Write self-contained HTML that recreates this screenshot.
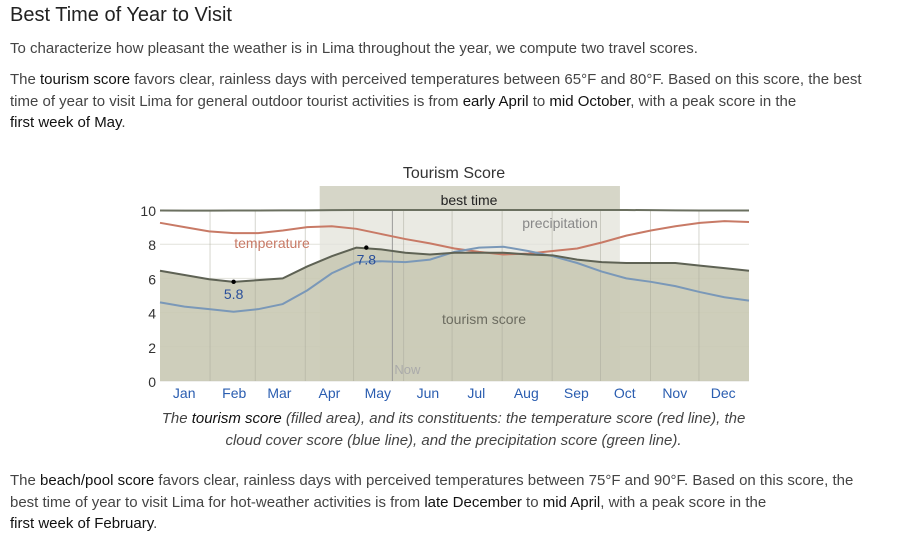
<!DOCTYPE html>
<html><head><meta charset="utf-8"><style>
body{margin:0;width:907px;height:552px;background:#fff;font-family:"Liberation Sans",sans-serif;color:#444;position:relative;overflow:hidden}
.t{position:absolute;left:10px;font-size:15px;line-height:21.5px;margin:0;white-space:nowrap}
b{font-weight:normal;color:#111}
</style></head><body>
<div class="t" style="top:5px;font-size:20px;color:#222">Best Time of Year to Visit</div>
<p class="t" style="top:38px">To characterize how pleasant the weather is in Lima throughout the year, we compute two travel scores.</p>
<p class="t" style="top:69px">The <b>tourism score</b> favors clear, rainless days with perceived temperatures between 65°F and 80°F. Based on this score, the best<br>time of year to visit Lima for general outdoor tourist activities is from <b>early April</b> to <b>mid October</b>, with a peak score in the<br><b>first week of May</b>.</p>
<svg id="c" width="907" height="552" style="position:absolute;left:0;top:0" font-family="Liberation Sans, sans-serif"></svg>
<p class="t" style="top:408px;left:0;width:907px;text-align:center;font-style:italic">The <b>tourism score</b> (filled area), and its constituents: the temperature score (red line), the<br>cloud cover score (blue line), and the precipitation score (green line).</p>
<p class="t" style="top:470px">The <b>beach/pool score</b> favors clear, rainless days with perceived temperatures between 75°F and 90°F. Based on this score, the<br>best time of year to visit Lima for hot-weather activities is from <b>late December</b> to <b>mid April</b>, with a peak score in the<br><b>first week of February</b>.</p>
<script>
const months=["Jan","Feb","Mar","Apr","May","Jun","Jul","Aug","Sep","Oct","Nov","Dec"];
const yTicks=[0,2,4,6,8,10];
const tourism=[6.45,6.2,5.95,5.8,5.9,6.0,6.7,7.3,7.8,7.7,7.5,7.4,7.5,7.5,7.5,7.4,7.35,7.1,6.95,6.9,6.9,6.9,6.75,6.6,6.45];
const temperature=[9.25,9.0,8.75,8.65,8.65,8.8,9.0,9.05,8.9,8.6,8.3,8.05,7.75,7.55,7.4,7.45,7.6,7.75,8.1,8.5,8.8,9.05,9.25,9.35,9.3];
const cloud=[4.6,4.35,4.2,4.05,4.2,4.5,5.3,6.3,6.95,7.0,6.95,7.1,7.55,7.8,7.85,7.6,7.3,6.9,6.4,6.0,5.8,5.55,5.2,4.9,4.7];
const precip=[9.97,9.96,9.96,9.97,9.97,9.98,9.98,9.99,10,10,10,10,10,10,10,10,10,10,10,10,9.99,9.98,9.97,9.97,9.97];
const bestStart=99, bestEnd=285, nowDay=144;
const lowIdx=3, peakIdx=8;
const X0=160,X1=749,Y0=381,Y1=210;
const ns="http://www.w3.org/2000/svg",svg=document.getElementById('c');
const x=d=>X0+(X1-X0)*d/365, y=v=>Y0-(Y0-Y1)*v/10;
const day=i=>i*365/(tourism.length-1);
function mk(t,a,txt){const e=document.createElementNS(ns,t);for(const k in a)e.setAttribute(k,a[k]);if(txt!=null)e.textContent=txt;svg.appendChild(e);return e;}
let e;
e=mk('rect',{x:X0,y:Y1,width:X1-X0,height:Y0-Y1,fill:'#fff'});

e=mk('rect',{x:x(bestStart),y:186,width:x(bestEnd)-x(bestStart),height:Y0-186,fill:'#eaeae3'});

e=mk('rect',{x:x(bestStart),y:186,width:x(bestEnd)-x(bestStart),height:Y1-186,fill:'#d6d6c8'});

yTicks.forEach(v=>{e=mk('line',{x1:X0,x2:X1,y1:y(v),y2:y(v),stroke:'#e2e2dc'});

e=mk('text',{x:156,y:y(v)+6,'text-anchor':'end','font-size':14,fill:'#333'},v);
});
const mstart=[0,31,59,90,120,151,181,212,243,273,304,334];
let ap='M'+x(0)+','+Y0;tourism.forEach((v,i)=>ap+=' L'+x(day(i))+','+y(v));ap+=' L'+x(365)+','+Y0+'Z';
e=mk('path',{d:ap,fill:'#c9c9b4',opacity:0.9});

mstart.forEach((d,i)=>{if(i>0){e=mk('line',{x1:x(d),x2:x(d),y1:Y1,y2:Y0,stroke:'#a9a99a','stroke-width':0.8,opacity:0.6});
}
e=mk('text',{x:x(d+15),y:398,'text-anchor':'middle','font-size':14,fill:'#2a5db0'},months[i]);
});
e=mk('line',{x1:x(nowDay),x2:x(nowDay),y1:Y1,y2:Y0,stroke:'#999','stroke-width':1});

e=mk('text',{x:x(nowDay)+2,y:374,'font-size':13,fill:'#aaa'},'Now');

function line(arr,col,name){let d='';arr.forEach((v,i)=>d+=(i?' L':'M')+x(day(i))+','+y(v));
e=mk('path',{d:d,fill:'none',stroke:col,'stroke-width':2});
}
line(precip,'#6b7060','precipitation-line');
line(temperature,'#c87a66','temperature-line');
line(cloud,'#7a98b8','cloud-cover-line');
line(tourism,'#5e6254','tourism-line');
e=mk('circle',{cx:x(day(lowIdx)),cy:y(tourism[lowIdx]),r:2.2,fill:'#000'});

e=mk('text',{x:x(day(lowIdx)),y:y(tourism[lowIdx])+17,'text-anchor':'middle','font-size':14,fill:'#2a4f9a'},tourism[lowIdx].toFixed(1));

e=mk('circle',{cx:x(day(peakIdx))+10,cy:y(tourism[peakIdx]),r:2.2,fill:'#000'});

e=mk('text',{x:x(day(peakIdx))+10,y:y(tourism[peakIdx])+17,'text-anchor':'middle','font-size':14,fill:'#2a4f9a'},tourism[peakIdx].toFixed(1));

e=mk('text',{x:454,y:178,'text-anchor':'middle','font-size':16,fill:'#333'},'Tourism Score');

e=mk('text',{x:469,y:205,'text-anchor':'middle','font-size':14,fill:'#222'},'best time');

e=mk('text',{x:560,y:228,'text-anchor':'middle','font-size':14,fill:'#888'},'precipitation');

e=mk('text',{x:272,y:248,'text-anchor':'middle','font-size':14,fill:'#c87a66'},'temperature');

e=mk('text',{x:484,y:324,'text-anchor':'middle','font-size':14,fill:'#6c6c60'},'tourism score');

</script>
</body></html>
